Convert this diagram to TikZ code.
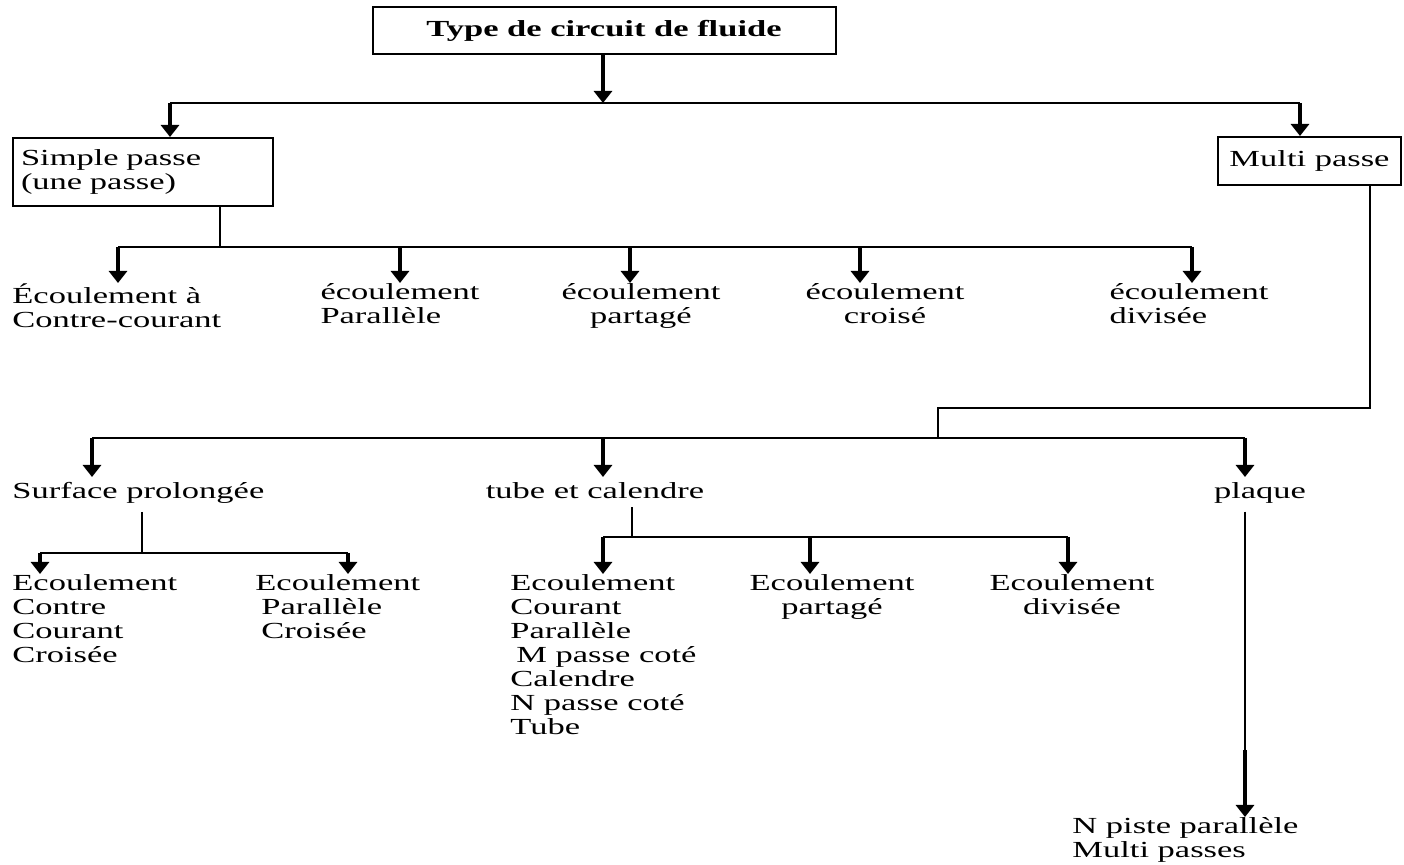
\documentclass[tikz,border=0pt]{standalone}
\usepackage{fontspec}
\setmainfont[FakeStretch=1.5]{Liberation Serif}
\usetikzlibrary{arrows.meta}

\begin{document}
\begin{tikzpicture}[x=0.5pt,y=-0.5pt,
    every node/.style={font=\fontsize{11.5pt}{12pt}\selectfont},
    box/.style={draw,line width=1pt},
    lbl/.style={inner sep=0pt,align=left,execute at begin node={\rule{0pt}{10.5pt}}},
    ln/.style={line width=1pt},
    arr/.style={line width=2.2pt,-{Triangle[width=9pt,length=6pt]}}]
  \useasboundingbox (0,0) rectangle (1404,865);
  % top level
  \node[box,minimum width=231.5pt,minimum height=23.5pt,
    font=\fontsize{11.5pt}{12pt}\selectfont\bfseries] (type) at (604,31) {Type de circuit de fluide};
  \node[box,anchor=north west,minimum width=130pt,minimum height=34pt,
    text width=122pt,align=left,inner xsep=3pt] (simple) at (12,137) {Simple passe\\(une passe)};
  \node[box,minimum width=91.5pt,minimum height=24pt] (multi) at (1309.5,161) {Multi passe};
  \coordinate (j0) at (603,103);
  \coordinate (j0l) at (170,103);
  \coordinate (j0r) at (1300,103);
  \draw[arr] (type.south -| j0) -- (j0);
  \draw[ln] (j0l) -- (j0r);
  \draw[arr] (j0l) -- (simple.north -| j0l);
  \draw[arr] (j0r) -- (multi.north -| j0r);

  % simple passe
  \node[lbl,anchor=north west] (e1) at (12,283) {Écoulement à\\Contre-courant};
  \node[lbl,anchor=north] (e2) at (400,283) {écoulement\\Parallèle};
  \node[lbl,anchor=north,align=center] (e3) at (641,283) {écoulement\\partagé};
  \node[lbl,anchor=north,align=center] (e4) at (885,283) {écoulement\\croisé};
  \node[lbl,anchor=north] (e5) at (1189,283) {écoulement\\divisée};
  \coordinate (j1) at (220,247);
  \draw[ln] (simple.south -| j1) -- (j1);
  \foreach \i/\x in {1/118,2/400,3/630,4/860,5/1192}{
    \coordinate (k\i) at (\x,247);
    \draw[arr] (k\i) -- (k\i |- e\i.north);
  }
  \draw[ln] (k1) -- (k5);

  % multi passe
  \coordinate (m1) at (1370,408);
  \coordinate (m2) at (938,408);
  \coordinate (j2) at (938,438);
  \draw[ln] (multi.south -| m1) -- (m1) -- (m2) -- (j2);
  \node[lbl,anchor=north west] (sp) at (12,477) {Surface prolongée};
  \node[lbl,anchor=north] (tc) at (595,477) {tube et calendre};
  \node[lbl,anchor=north] (pl) at (1260,477) {plaque};
  \coordinate (q1) at (92,438);
  \coordinate (q2) at (603,438);
  \coordinate (q3) at (1245,438);
  \draw[ln] (q1) -- (q3);
  \draw[arr] (q1) -- (q1 |- sp.north);
  \draw[arr] (q2) -- (q2 |- tc.north);
  \draw[arr] (q3) -- (q3 |- pl.north);

  % surface prolongee
  \node[lbl,anchor=north west] (s1) at (12,574) {Ecoulement\\Contre\\Courant\\Croisée};
  \node[lbl,anchor=north west] (s2) at (255,574) {Ecoulement\\\hspace{3pt}Parallèle\\\hspace{3pt}Croisée};
  \coordinate (j3) at (142,553);
  \coordinate (r1) at (40,553);
  \coordinate (r2) at (348,553);
  \draw[ln,shorten <=4pt] (sp.south -| j3) -- (j3);
  \draw[ln] (r1) -- (r2);
  \draw[arr] (r1) -- (r1 |- s1.north);
  \draw[arr] (r2) -- (r2 |- s2.north);

  % tube et calendre
  \node[lbl,anchor=north west] (t1) at (510,574) {Ecoulement\\Courant\\Parallèle\\\hspace{3pt}M passe coté\\Calendre\\N passe coté\\Tube};
  \node[lbl,anchor=north,align=center] (t2) at (832,574) {Ecoulement\\partagé};
  \node[lbl,anchor=north,align=center] (t3) at (1072,574) {Ecoulement\\divisée};
  \coordinate (j4) at (632,537);
  \coordinate (u1) at (603,537);
  \coordinate (u2) at (810,537);
  \coordinate (u3) at (1068,537);
  \draw[ln,shorten <=4pt] (tc.south -| j4) -- (j4);
  \draw[ln] (u1) -- (u3);
  \draw[arr] (u1) -- (u1 |- t1.north);
  \draw[arr] (u2) -- (u2 |- t2.north);
  \draw[arr] (u3) -- (u3 |- t3.north);

  % plaque
  \node[lbl,anchor=north west] (np) at (1072,817) {N piste parallèle\\Multi passes};
  \coordinate (v1) at (1245,750);
  \draw[ln,shorten <=4pt] (pl.south -| v1) -- (v1);
  \draw[arr] (v1) -- (v1 |- np.north);
\end{tikzpicture}
\end{document}
